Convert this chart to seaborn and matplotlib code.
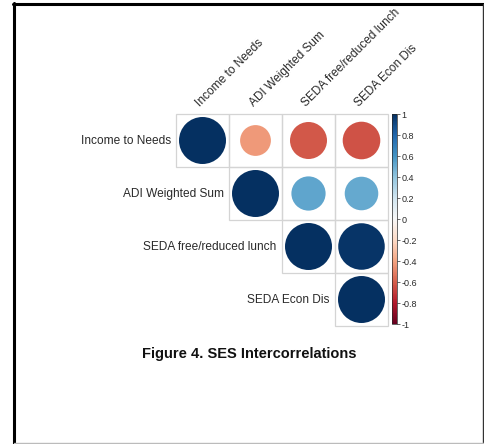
import numpy as np
import pandas as pd
import matplotlib
matplotlib.use("Agg")
import matplotlib.pyplot as plt
from matplotlib.colors import ListedColormap, Normalize
from matplotlib.cm import ScalarMappable
from matplotlib.lines import Line2D
from matplotlib.patches import Rectangle
import seaborn as sns

# variables and upper-triangle correlations
variables = ["Income to Needs", "ADI Weighted Sum", "SEDA free/reduced lunch", "SEDA Econ Dis"]
row_var = [0, 0, 0, 0, 1, 1, 1, 2, 2, 3]
col_var = [0, 1, 2, 3, 1, 2, 3, 2, 3, 3]
r_vals = [1.0, -0.43, -0.62, -0.64, 1.0, 0.53, 0.51, 1.0, 0.98, 1.0]
cbar_ticks = [-1, -0.8, -0.6, -0.4, -0.2, 0, 0.2, 0.4, 0.6, 0.8, 1]

sns.set_theme(style="white")
plt.rcParams["font.family"] = ["Liberation Sans", "DejaVu Sans"]

W, H = 484, 444
fig = plt.figure(figsize=(W / 100, H / 100), dpi=100)
fig.patch.set_facecolor("white")

n = len(variables)
# grid occupies px 176..388 horizontally, 114..326 vertically
ax = fig.add_axes([176 / W, 1 - 326 / H, 212 / W, 212 / H])

mask = np.tril(np.ones((n, n), dtype=bool), k=-1)
sns.heatmap(np.zeros((n, n)), mask=mask, cmap=ListedColormap(["white"]),
            cbar=False, xticklabels=False, yticklabels=False, ax=ax)

# light grey border round each upper-triangle cell
for r, c in zip(row_var, col_var):
    ax.add_patch(Rectangle((c, r), 1, 1, fill=False, edgecolor="#d4d4d4",
                           lw=0.9, zorder=2, clip_on=False))

df = pd.DataFrame({"x": np.array(col_var) + 0.5,
                   "y": np.array(row_var) + 0.5,
                   "r": r_vals})
df["absr"] = df["r"].abs()
sns.scatterplot(data=df, x="x", y="y", hue="r", size="absr",
                palette="RdBu", hue_norm=(-1, 1),
                sizes=(0, 1145), size_norm=(0, 1),
                linewidth=0, legend=False, ax=ax, zorder=3)
ax.set_xlim(0, n)
ax.set_ylim(n, 0)
ax.set_xlabel("")
ax.set_ylabel("")
for s in ax.spines.values():
    s.set_visible(False)

txt_color = "#2a2a2a"
for i, name in enumerate(variables):
    # row labels beside the diagonal cell
    ax.text(i - 0.1, i + 0.5, name, ha="right", va="center",
            fontsize=8.6, color=txt_color)
    # column labels above the grid, rotated
    ax.text(i + 0.5, -0.1, name, ha="left", va="bottom", rotation=45,
            rotation_mode="anchor", fontsize=8.6, color=txt_color)

# colorbar
cax = fig.add_axes([392 / W, 1 - 324 / H, 5 / W, 210 / H])
sm = ScalarMappable(norm=Normalize(-1, 1), cmap="RdBu")
cb = fig.colorbar(sm, cax=cax, ticks=cbar_ticks)
cb.ax.set_yticklabels([f"{t:g}" for t in cbar_ticks])
cb.ax.tick_params(labelsize=6.5, length=2, width=0.5, pad=1, colors=txt_color)
cb.outline.set_linewidth(0.5)

fig.text(249 / W, 1 - 354 / H, "Figure 4. SES Intercorrelations",
         ha="center", va="center", fontsize=10.5, fontweight="bold", color="#111111")

# page frame
fig.add_artist(Line2D([14 / W, 14 / W], [0, 1 - 3 / H], color="black", lw=2.2))
fig.add_artist(Line2D([13 / W, 1], [1 - 4 / H, 1 - 4 / H], color="black", lw=2.2))
fig.add_artist(Line2D([482.5 / W, 482.5 / W], [0, 1 - 4 / H], color="#333333", lw=1.0))
fig.add_artist(Line2D([14 / W, 1], [0.8 / H, 0.8 / H], color="#bbbbbb", lw=1.0))

fig.savefig("out.png", dpi=100)
